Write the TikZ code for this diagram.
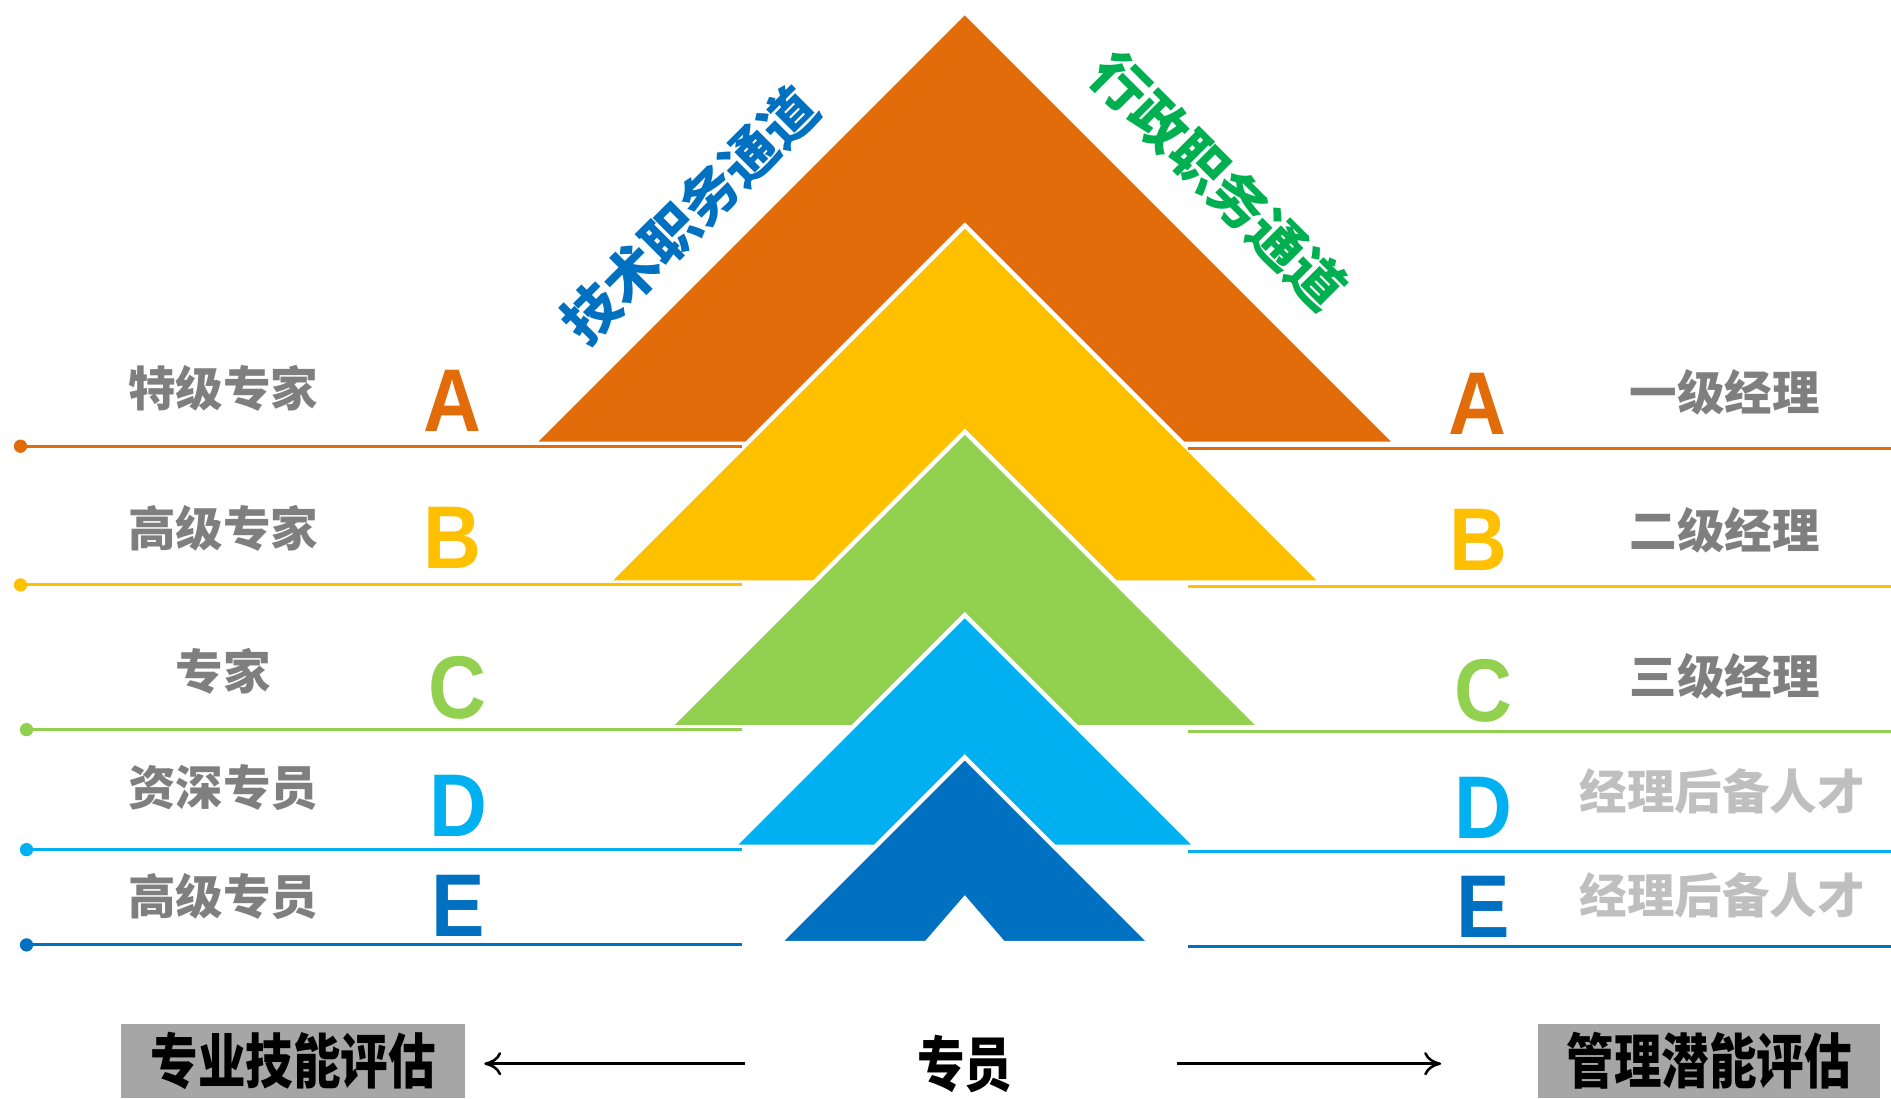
\documentclass[tikz,border=0pt]{standalone}
\usepackage{fontspec}
\usepackage{tikz}
\usetikzlibrary{arrows.meta}
\setmainfont{Liberation Sans}
\newfontfamily\cjk{Noto Sans CJK SC}
\newfontfamily\cjknarrow{Noto Sans CJK SC}[FakeStretch=0.8]
\newfontfamily\gradefont{Liberation Sans}[FakeStretch=0.9]
\definecolor{lvorange}{RGB}{227,108,10}
\definecolor{lvyellow}{RGB}{255,192,0}
\definecolor{lvgreen}{RGB}{146,208,80}
\definecolor{lvcyan}{RGB}{0,176,240}
\definecolor{lvblue}{RGB}{0,112,192}
\definecolor{chgreen}{RGB}{0,176,80}
\definecolor{lblgray}{RGB}{127,127,127}
\definecolor{palegray}{RGB}{191,191,191}
\definecolor{boxgray}{RGB}{166,166,166}
\tikzset{
  level/.style={font=\cjk\bfseries\fontsize{11.2pt}{11.2pt}\selectfont, text=lblgray},
  grade/.style={font=\gradefont\bfseries\fontsize{21pt}{21pt}\selectfont},
  channel/.style={font=\cjk\bfseries\fontsize{13.1pt}{13.1pt}\selectfont},
  evalbox/.style={fill=boxgray, inner sep=0pt, minimum height=0.61cm,
    font=\cjknarrow\bfseries\fontsize{14pt}{14pt}\selectfont},
  arr/.style={line width=0.6pt, -{To[length=4pt,width=5.5pt]}}
}

\begin{document}
\begin{tikzpicture}[x=0.01cm,y=-0.01cm]
\useasboundingbox (0,0) rectangle (1568,911);
\fill[white] (0,0) rectangle (1568,911);
\foreach \a/\b/\c/\w/\col in {10/368/187/181/lvorange, 187/483/358/125/lvyellow,
  358/603/510/93/lvgreen, 510/702/628/74/lvcyan, 628/782/745/32/lvblue}
  \filldraw[fill=\col, draw=white, line width=1pt] (800,\a) -- ({800+\b-\a},\b)
    -- ({800+\w},\b) -- (800,\c) -- ({800-\w},\b) -- ({800-\b+\a},\b) -- cycle;
\foreach \y/\x/\col in {370/17/lvorange, 485/17/lvyellow, 605/22/lvgreen,
  704.5/22/lvcyan, 783.5/22/lvblue} {
  \draw[\col, line width=0.7pt] (\x,\y) -- (615,\y);
  \fill[\col] (\x,\y) circle (0.055cm);
  \draw[\col, line width=0.7pt] (985,\y+1.5) -- (1568,\y+1.5);
}
\node[level] (l1) at (185,322) {特级专家};
\node[level] (l2) at (185,438) {高级专家};
\node[level] (l3) at (185,557) {专家};
\node[level] (l4) at (185,653) {资深专员};
\node[level] (l5) at (185,743) {高级专员};
\node[grade, text=lvorange] (la) at (375,332) {A};
\node[grade, text=lvyellow] (lb) at (375,446) {B};
\node[grade, text=lvgreen] (lc) at (379,570) {C};
\node[grade, text=lvcyan] (ld) at (380,668) {D};
\node[grade, text=lvblue] (le) at (380,751) {E};
\node[grade, text=lvorange] (ra) at (1225,335) {A};
\node[grade, text=lvyellow] (rb) at (1226,448) {B};
\node[grade, text=lvgreen] (rc) at (1230,573) {C};
\node[grade, text=lvcyan] (rd) at (1230,670) {D};
\node[grade, text=lvblue] (re) at (1230,752) {E};
\node[level] (r1) at (1430,325) {一级经理};
\node[level] (r2) at (1430,440) {二级经理};
\node[level] (r3) at (1430,561) {三级经理};
\node[level, text=palegray] (r4) at (1428,656) {经理后备人才};
\node[level, text=palegray] (r5) at (1428,742) {经理后备人才};
\node[channel, text=lvblue, rotate=45] (tech) at (572,178) {技术职务通道};
\node[channel, text=chgreen, rotate=-45] (admin) at (1011,150) {行政职务通道};
\node[evalbox, minimum width=2.85cm, anchor=south west] (skill) at (100,911) {专业技能评估};
\node[evalbox, minimum width=2.83cm, anchor=south west] (mgmt) at (1275,911) {管理潜能评估};
\node[font=\cjknarrow\bfseries\fontsize{14pt}{14pt}\selectfont, inner sep=0pt] (zy) at (800,882) {专员};
\draw[arr, shorten <=1.42cm, shorten >=0.15cm] (zy.west) -- (skill.east |- zy.west);
\draw[arr, shorten <=1.36cm, shorten >=0.8cm] (zy.east) -- (mgmt.west |- zy.east);
\end{tikzpicture}
\end{document}
